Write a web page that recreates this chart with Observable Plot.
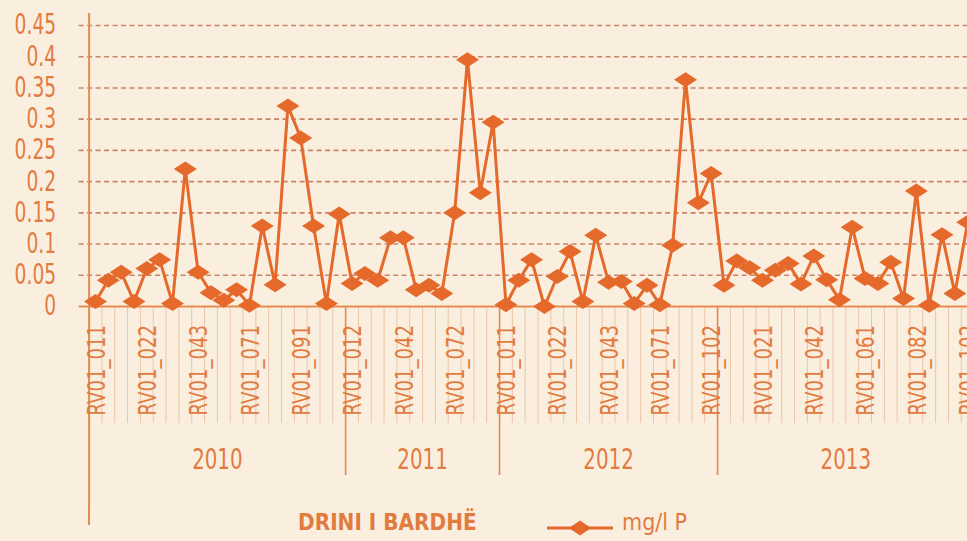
<!DOCTYPE html>
<html>
<head>
<meta charset="utf-8">
<script src="https://cdn.jsdelivr.net/npm/d3@7"></script>
<script src="https://cdn.jsdelivr.net/npm/@observablehq/plot@0.6"></script>
<style>
  html, body { margin: 0; padding: 0; background: #FAEEDF; overflow: hidden; width: 967px; height: 541px; }
  #chart { position: relative; width: 980px; }
  #legend { position: relative; height: 36px; width: 967px; font-family: "DejaVu Sans Condensed", "Liberation Sans Narrow", sans-serif; color: #E27B3F; }
  #legend .axisext { position: absolute; left: 87.6px; top: 0; width: 2px; height: 20px; background: #E58B50; }
  #legend .title { position: absolute; left: 298px; top: 6px; font-size: 23px; font-weight: bold; line-height: 23px; white-space: nowrap; transform: scaleX(0.97); transform-origin: left center; }
  #legend .swatch { position: absolute; left: 547px; top: 15px; }
  #legend .unit { position: absolute; left: 622px; top: 6px; font-size: 23px; line-height: 23px; white-space: nowrap; }
</style>
</head>
<body>
<div id="chart"></div>
<div id="legend"></div>
<script>
// ---- data ----
const years = ["2010", "2011", "2012", "2013"];
const values2010 = [0.008, 0.042, 0.055, 0.008, 0.061, 0.075, 0.005, 0.220, 0.055, 0.022,
                    0.010, 0.027, 0.002, 0.129, 0.035, 0.321, 0.270, 0.129, 0.005, 0.148];
const values2011 = [0.037, 0.053, 0.042, 0.110, 0.110, 0.027, 0.034, 0.021, 0.150, 0.395,
                    0.182, 0.295];
const values2012 = [0.003, 0.042, 0.075, 0.000, 0.048, 0.088, 0.008, 0.114, 0.039, 0.040,
                    0.005, 0.034, 0.003, 0.098, 0.363, 0.166, 0.213];
const values2013 = [0.034, 0.073, 0.062, 0.042, 0.058, 0.069, 0.036, 0.081, 0.043, 0.011,
                    0.127, 0.045, 0.037, 0.071, 0.013, 0.185, 0.002, 0.115, 0.021, 0.135];
// every 4th sample id is labelled on the axis
const tickLabels = ["RV01_011", "RV01_022", "RV01_043", "RV01_071", "RV01_091",
                    "RV01_012", "RV01_042", "RV01_072",
                    "RV01_011", "RV01_022", "RV01_043", "RV01_071", "RV01_102",
                    "RV01_021", "RV01_042", "RV01_061", "RV01_082", "RV01_102"];
const yTicks = [0, 0.05, 0.1, 0.15, 0.2, 0.25, 0.3, 0.35, 0.4, 0.45];
const seriesName = "mg/l P";
const stationName = "DRINI I BARDHË";

// ---- build tables ----
const yearValues = [values2010, values2011, values2012, values2013];
const points = [];
const yearGroups = [];
let idx = 0;
yearValues.forEach((vals, k) => {
  const start = idx;
  vals.forEach(v => { points.push({i: idx, year: years[k], value: v}); idx++; });
  yearGroups.push({year: years[k], start, end: idx - 1, center: (start + idx - 1) / 2});
});
const n = idx;
const labelData = tickLabels.map((t, k) => ({i: k * 4, label: t}));
const boundaries = d3.range(n + 1).map(i => i - 0.5);
const separators = yearGroups.slice(0, -1).map(g => g.end + 0.5).concat([n - 0.5]);

const ORANGE = "#E5692A";
const TEXT = "#E27B3F";
const AXIS = "#E58B50";
const GRID = "#C98366";
const TICK = "#EBC6A8";
const FONT = '"DejaVu Sans Condensed", "Liberation Sans Narrow", sans-serif';

const diamond = {
  draw(ctx) {
    ctx.moveTo(0, -7.5);
    ctx.lineTo(11.5, 0);
    ctx.lineTo(0, 7.5);
    ctx.lineTo(-11.5, 0);
    ctx.closePath();
  }
};

const chart = Plot.plot({
  width: 980,
  height: 505,
  marginLeft: 88.6,
  marginRight: 6.4,
  marginTop: 25,
  marginBottom: 199,
  style: {background: "transparent", fontFamily: FONT, color: TEXT, overflow: "visible"},
  x: {type: "linear", domain: [-0.5, n - 0.5], axis: null},
  y: {domain: [0, 0.45], axis: null},
  marks: [
    Plot.ruleY(yTicks.slice(1), {stroke: GRID, strokeWidth: 1.6, strokeDasharray: "5,3.5", insetLeft: -10}),
    Plot.ruleX(boundaries, {stroke: TICK, strokeWidth: 1, insetTop: 281, insetBottom: -117}),
    Plot.ruleY([0], {stroke: AXIS, strokeWidth: 2, insetLeft: -10}),
    Plot.ruleX(separators, {stroke: AXIS, strokeWidth: 1.6, insetTop: 281, insetBottom: -169}),
    Plot.ruleX([-0.5], {stroke: AXIS, strokeWidth: 2, insetTop: -12, insetBottom: -199}),
    Plot.text(yTicks, {y: d => d, text: d => String(d), frameAnchor: "left", dx: -33,
      textAnchor: "end", lineAnchor: "middle", fontSize: 28, fill: TEXT, className: "ytick"}),
    Plot.text(labelData, {x: "i", text: "label", frameAnchor: "bottom", dy: 109, dx: 1.5,
      rotate: -90, textAnchor: "start", lineAnchor: "middle", fontSize: 24, fill: TEXT, className: "xlab"}),
    Plot.text(yearGroups, {x: "center", text: "year", frameAnchor: "bottom", dy: 153,
      lineAnchor: "middle", fontSize: 29, fill: TEXT, className: "yearlab"}),
    Plot.line(points, {x: "i", y: "value", stroke: ORANGE, strokeWidth: 3}),
    Plot.dot(points, {x: "i", y: "value", symbol: diamond, fill: ORANGE, stroke: "none"})
  ]
});
document.getElementById("chart").appendChild(chart);

// emulate the reference's condensed typeface
function condense(selector, f) {
  chart.querySelectorAll(selector).forEach(t => {
    const L = t.getComputedTextLength();
    t.setAttribute("textLength", L * f);
    t.setAttribute("lengthAdjust", "spacingAndGlyphs");
  });
}
condense(".ytick text", 0.74);
condense(".xlab text", 0.84);
condense(".yearlab text", 0.76);

// ---- legend below the svg ----
const legend = document.getElementById("legend");
legend.innerHTML = `
  <div class="axisext"></div>
  <div class="title"></div>
  <svg class="swatch" width="66" height="16" viewBox="0 0 66 16">
    <line x1="0" y1="8" x2="66" y2="8" stroke="${ORANGE}" stroke-width="3"></line>
    <path d="M33,0.5 L44,8 L33,15.5 L22,8 Z" fill="${ORANGE}"></path>
  </svg>
  <div class="unit"></div>`;
legend.querySelector(".title").textContent = stationName;
legend.querySelector(".unit").textContent = seriesName;
</script>
</body>
</html>
